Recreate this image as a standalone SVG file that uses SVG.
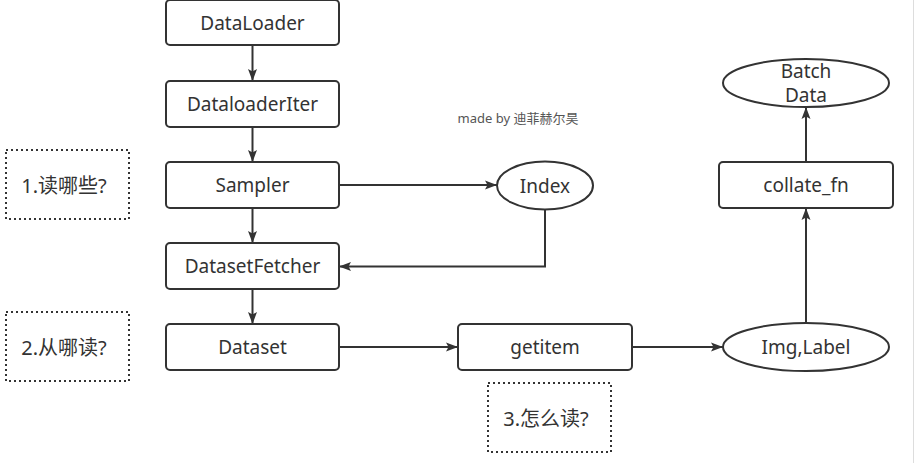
<svg xmlns="http://www.w3.org/2000/svg" width="920" height="463" viewBox="0 0 920 463">
<defs>
<marker id="ah" viewBox="0 0 12 10" refX="12" refY="5" markerWidth="12" markerHeight="10" markerUnits="userSpaceOnUse" orient="auto">
<path d="M0,0.5 L12,5 L0,9.5 L2.5,5 Z" fill="#333"/>
</marker>
</defs>
<style>
.box{fill:#fff;stroke:#333;stroke-width:2}
.dot{fill:#fff;stroke:#333;stroke-width:2;stroke-dasharray:2 3}
.t{font-family:"Noto Sans","Noto Sans CJK SC",sans-serif;font-size:19px;fill:#333;text-anchor:middle;dominant-baseline:central}
.n{font-size:20px}
.c{fill:none;stroke:#333;stroke-width:2;marker-end:url(#ah)}
.note{font-family:"Noto Sans","Noto Sans CJK SC",sans-serif;font-size:13px;fill:#555;text-anchor:middle;dominant-baseline:central}
</style>
<rect width="920" height="463" fill="#fff"/>
<line x1="913.5" y1="0" x2="913.5" y2="463" stroke="#ddd" stroke-width="1"/>
<g id="connectors">
<path class="c" d="M252.5,46 V81"/>
<path class="c" d="M252.5,127 V162"/>
<path class="c" d="M252.5,208 V243"/>
<path class="c" d="M252.5,289 V324"/>
<path class="c" d="M339,185 H497"/>
<path class="c" d="M545,210 V266.5 H339"/>
<path class="c" d="M339,347 H458"/>
<path class="c" d="M632,347 H723"/>
<path class="c" d="M806,323 V208"/>
<path class="c" d="M806,162 V107"/>
</g>
<g id="dataloader"><rect class="box" x="166" y="0" width="173" height="45" rx="4"/><text class="t" x="252.5" y="23">DataLoader</text></g>
<g id="dataloaderiter"><rect class="box" x="166" y="81" width="173" height="46" rx="4"/><text class="t" x="252.5" y="104">DataloaderIter</text></g>
<g id="sampler"><rect class="box" x="166" y="162" width="173" height="46" rx="4"/><text class="t" x="252.5" y="185">Sampler</text></g>
<g id="datasetfetcher"><rect class="box" x="166" y="243" width="173" height="46" rx="4"/><text class="t" x="252.5" y="266">DatasetFetcher</text></g>
<g id="dataset"><rect class="box" x="166" y="324" width="173" height="46" rx="4"/><text class="t" x="252.5" y="347">Dataset</text></g>
<g id="getitem"><rect class="box" x="458" y="324" width="174" height="46" rx="4"/><text class="t" x="545" y="347">getitem</text></g>
<g id="collate"><rect class="box" x="719" y="162" width="174" height="46" rx="4"/><text class="t" x="806" y="185">collate_fn</text></g>
<g id="index"><ellipse class="box" cx="545" cy="185.5" rx="48" ry="24"/><text class="t" x="545" y="185.5">Index</text></g>
<g id="imglabel"><ellipse class="box" cx="806" cy="347" rx="83" ry="24"/><text class="t" x="806" y="347">Img,Label</text></g>
<g id="batchdata"><ellipse class="box" cx="806" cy="83" rx="83" ry="24"/><text class="t" x="806" y="71">Batch</text><text class="t" x="806" y="95">Data</text></g>
<g id="note1"><rect class="dot" x="6" y="150" width="123" height="69"/><text class="t n" x="64" y="185">1.读哪些?</text></g>
<g id="note2"><rect class="dot" x="6" y="312" width="123" height="69"/><text class="t n" x="64" y="347">2.从哪读?</text></g>
<g id="note3"><rect class="dot" x="488" y="383" width="123" height="69"/><text class="t n" x="546" y="418">3.怎么读?</text></g>
<g id="credit"><text class="note" x="518" y="118">made by 迪菲赫尔昊</text></g>
</svg>
